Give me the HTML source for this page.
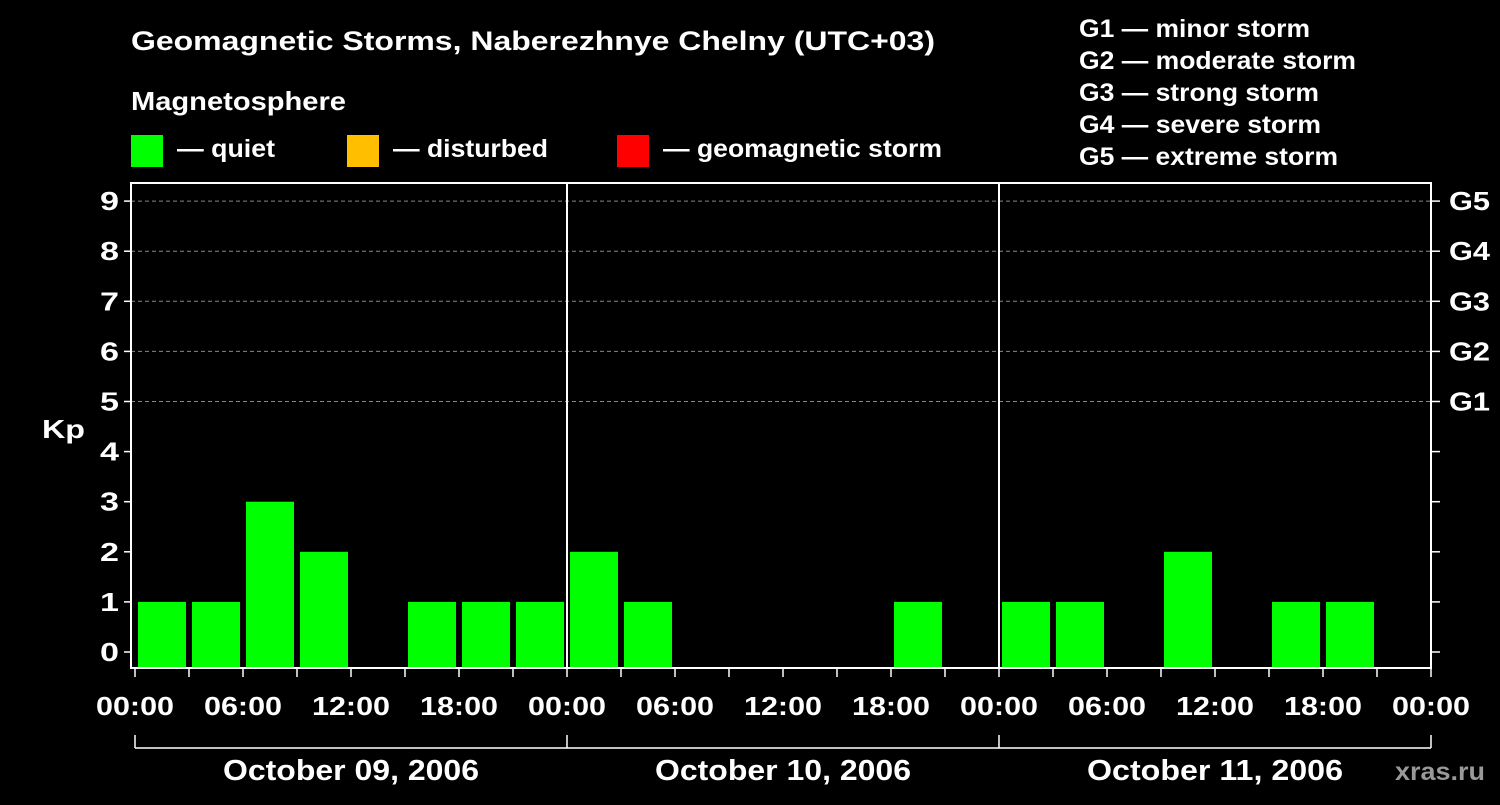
<!DOCTYPE html>
<html><head><meta charset="utf-8"><style>
body{margin:0;background:#000;width:1500px;height:800px;overflow:hidden}
svg text{font-family:"Liberation Sans",Arial,sans-serif;font-weight:bold;fill:#fff}
</style></head><body>
<svg id="c" width="1500" height="800" xmlns="http://www.w3.org/2000/svg">
<text x="131" y="50" font-size="27" textLength="804" lengthAdjust="spacingAndGlyphs">Geomagnetic Storms, Naberezhnye Chelny (UTC+03)</text>
<text x="131" y="110" font-size="26" textLength="215" lengthAdjust="spacingAndGlyphs">Magnetosphere</text>
<g font-size="25">
<rect x="131" y="135" width="32" height="32" fill="#00ff00"/><text x="177" y="157" textLength="98" lengthAdjust="spacingAndGlyphs">— quiet</text>
<rect x="347" y="135" width="32" height="32" fill="#ffbf00"/><text x="393" y="157" textLength="155" lengthAdjust="spacingAndGlyphs">— disturbed</text>
<rect x="617" y="135" width="32" height="32" fill="#ff0000"/><text x="663" y="157" textLength="279" lengthAdjust="spacingAndGlyphs">— geomagnetic storm</text>
</g>
<g font-size="25">
<text x="1079" y="37" textLength="231" lengthAdjust="spacingAndGlyphs">G1 — minor storm</text>
<text x="1079" y="69" textLength="277" lengthAdjust="spacingAndGlyphs">G2 — moderate storm</text>
<text x="1079" y="101" textLength="240" lengthAdjust="spacingAndGlyphs">G3 — strong storm</text>
<text x="1079" y="133" textLength="242" lengthAdjust="spacingAndGlyphs">G4 — severe storm</text>
<text x="1079" y="165" textLength="259" lengthAdjust="spacingAndGlyphs">G5 — extreme storm</text>
</g>
<text x="42" y="438" font-size="26" textLength="43" lengthAdjust="spacingAndGlyphs">Kp</text>
<text x="1395" y="780" font-size="25" textLength="90" lengthAdjust="spacingAndGlyphs" style="fill:#999">xras.ru</text>
<g id="plot"></g>
</svg>
<script>
const kpValues=[1,1,3,2,0,1,1,1, 2,1,0,0,0,0,1,0, 1,1,0,2,0,1,1,0];
const dayLabels=["October 09, 2006","October 10, 2006","October 11, 2006"];
const hourLabels=["00:00","06:00","12:00","18:00"];
const gLabels=["G1","G2","G3","G4","G5"];
const NS="http://www.w3.org/2000/svg";
const g=document.getElementById('plot');
const L=131,R=1431,T=183,B=668,X0=135,slotW=54;
const y=v=>652-v*50.1;
const x=i=>X0+i*slotW;
function mk(t,a,txt){const e=document.createElementNS(NS,t);for(const k in a)e.setAttribute(k,a[k]);if(txt!==undefined)e.textContent=txt;g.appendChild(e);return e;}
for(let v=5;v<=9;v++){const e=mk('line',{x1:L,x2:R,y1:y(v),y2:y(v),stroke:'#888','stroke-dasharray':'4,3'});

}
kpValues.forEach((v,i)=>{if(v<=0)return;
const c=v>=5?'#ff0000':v>=4?'#ffbf00':'#00ff00';
const e=mk('rect',{x:x(i)+3,y:y(v),width:48,height:B-y(v),fill:c});

});
const f=mk('rect',{x:L,y:T,width:R-L,height:B-T,fill:'none',stroke:'#fff','stroke-width':2});


for(let d=1;d<3;d++){const e=mk('line',{x1:x(d*8),x2:x(d*8),y1:T,y2:B,stroke:'#fff','stroke-width':2});

}
for(let v=0;v<=9;v++){
mk('line',{x1:L-7,x2:L,y1:y(v),y2:y(v),stroke:'#fff','stroke-width':1.5});
mk('line',{x1:R,x2:R+9,y1:y(v),y2:y(v),stroke:'#fff','stroke-width':1.5});
const t=mk('text',{x:L-12,y:y(v)+9,'font-size':26,'text-anchor':'end',textLength:19,lengthAdjust:'spacingAndGlyphs'},String(v));

}
gLabels.forEach((s,i)=>{const t=mk('text',{x:1449,y:y(5+i)+9,'font-size':26,textLength:41,lengthAdjust:'spacingAndGlyphs'},s);

});
for(let i=0;i<=24;i++){mk('line',{x1:x(i),x2:x(i),y1:B,y2:B+9,stroke:'#fff','stroke-width':1.5});
if(i%2===0){const t=mk('text',{x:x(i),y:715,'font-size':26,'text-anchor':'middle',textLength:78,lengthAdjust:'spacingAndGlyphs'},hourLabels[(i/2)%4]);

}}
mk('line',{x1:x(0),x2:x(24),y1:748,y2:748,stroke:'#fff','stroke-width':1.5});
for(let d=0;d<=3;d++)mk('line',{x1:x(d*8),x2:x(d*8),y1:735,y2:748,stroke:'#fff','stroke-width':1.5});
dayLabels.forEach((s,d)=>{const t=mk('text',{x:x(d*8+4),y:780,'font-size':29,'text-anchor':'middle',textLength:256,lengthAdjust:'spacingAndGlyphs'},s);

});
</script>
</body></html>
